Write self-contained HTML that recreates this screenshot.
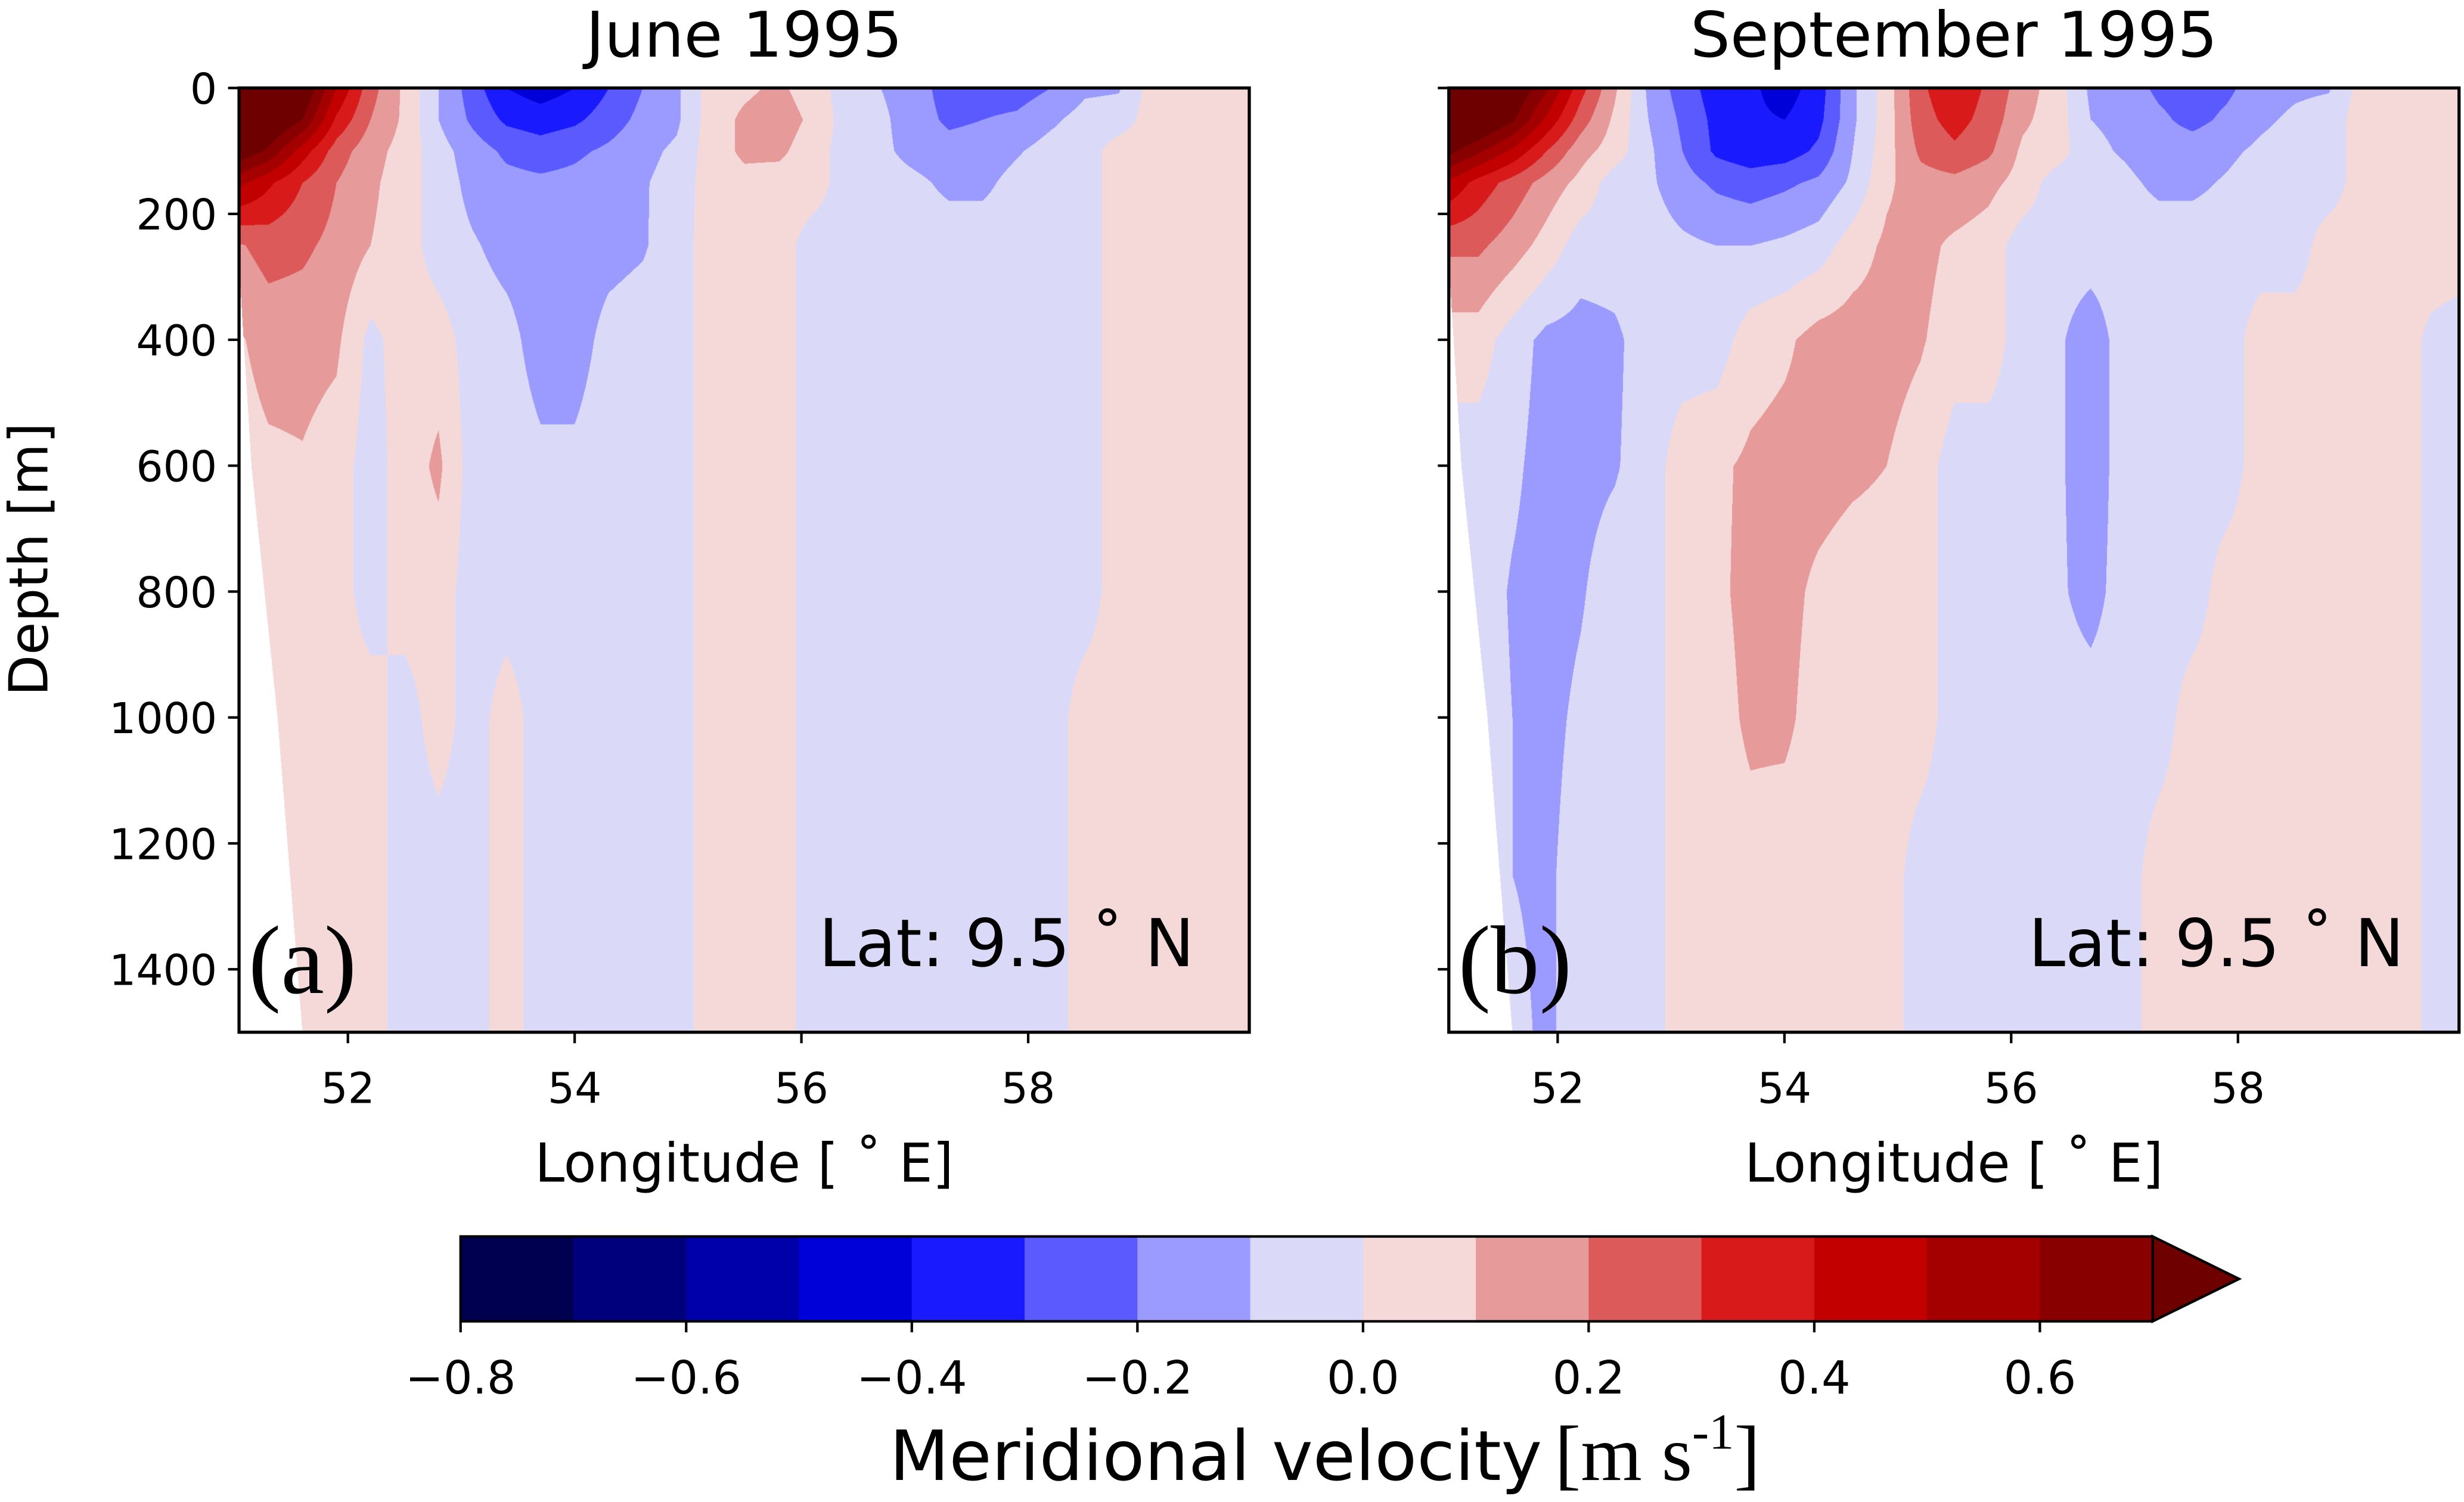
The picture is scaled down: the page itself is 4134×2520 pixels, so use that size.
<!DOCTYPE html>
<html><head><meta charset="utf-8">
<style>
html,body{margin:0;padding:0;background:#fff;}
#wrap{position:relative;width:4134px;height:2520px;overflow:hidden;background:#fff;}
canvas{position:absolute;}
svg{position:absolute;left:0;top:0;}
text{font-family:"DejaVu Sans","Liberation Sans",sans-serif;fill:#000;}
.serif{font-family:"Liberation Serif","DejaVu Serif",serif;}
</style></head>
<body>
<div id="wrap">
<canvas id="cvA"></canvas>
<canvas id="cvB"></canvas>
<svg id="svg" width="4134" height="2520" viewBox="0 0 1568 956"></svg>
</div>
<script>
// ---- data ----
const lons = [51.0,51.3,51.6,51.9,52.2,52.5,52.8,53.1,53.4,53.7,54.0,54.3,54.6,54.9,55.2,55.5,55.8,56.1,56.4,56.7,57.0,57.3,57.6,57.9,58.2,58.5,58.8,59.1,59.4,59.7,60.0];
const depths = [0,50,100,150,250,400,600,800,1000,1250,1500];
// velocities in cm/s (0.01 m/s)
const juneValues = [
[95,92,82,50,24,8,-10,-25,-40,-45,-40,-30,-20,-12,5,8,12,5,-5,-10,-15,-25,-25,-25,-20,-12,-11,5,5,5,5],
[90,85,70,38,20,8,-10,-22,-32,-35,-32,-25,-17,-12,5,12,15,8,-5,-8,-15,-22,-20,-18,-12,-6,-5,5,5,5,5],
[80,68,45,25,14,6,-6,-15,-22,-25,-22,-18,-13,-8,5,12,12,5,-5,-8,-13,-16,-15,-11,-6,-5,5,5,5,5,5],
[55,42,30,20,12,5,-5,-13,-17,-18,-17,-14,-11,-6,5,7,6,5,-5,-6,-8,-12,-12,-7,-5,-5,5,5,5,5,5],
[18,24,22,17,10,5,-5,-9,-13,-15,-15,-13,-11,-5,5,5,5,-5,-5,-5,-5,-5,-5,-5,-5,-5,5,5,5,5,5],
[8,14,14,12,-3,5,5,-5,-7,-14,-14,-7,-5,-5,5,5,5,-5,-5,-5,-5,-5,-5,-5,-5,-5,5,5,5,5,5],
[5,8,9,5,-5,5,12,-5,-5,-8,-8,-5,-5,-5,5,5,5,-5,-5,-5,-5,-5,-5,-5,-5,-5,5,5,5,5,5],
[5,5,5,5,-5,5,5,-5,-5,-5,-5,-5,-5,-5,5,5,5,-5,-5,-5,-5,-5,-5,-5,-5,-5,5,5,5,5,5],
[5,5,5,5,5,-5,5,-5,5,-5,-5,-5,-5,-5,5,5,5,-5,-5,-5,-5,-5,-5,-5,-5,5,5,5,5,5,5],
[5,5,5,5,5,-5,-5,-5,5,-5,-5,-5,-5,-5,5,5,5,-5,-5,-5,-5,-5,-5,-5,-5,5,5,5,5,5,5],
[5,5,5,5,5,-5,-5,-5,5,-5,-5,-5,-5,-5,5,5,5,-5,-5,-5,-5,-5,-5,-5,-5,5,5,5,5,5,5]
];
const septemberValues = [
[95,92,82,62,34,12,-12,-25,-35,-38,-45,-35,-12,5,28,38,28,15,5,-12,-15,-22,-25,-22,-15,-12,-11,5,5,5,5],
[90,85,72,48,25,8,-10,-22,-33,-38,-40,-33,-12,5,26,34,26,12,5,-10,-12,-18,-23,-18,-12,-8,-5,5,5,5,5],
[75,62,48,30,14,5,-8,-20,-32,-36,-35,-28,-10,6,22,28,22,8,5,-8,-11,-15,-15,-12,-8,-5,-5,5,5,5,5],
[50,36,26,16,7,-5,-8,-16,-22,-25,-22,-18,-8,8,16,17,13,6,-5,-6,-8,-12,-12,-9,-5,-5,-5,5,5,5,5],
[22,22,15,6,-5,-5,-5,-8,-10,-10,-8,-5,5,12,13,8,5,-5,-5,-5,-5,-5,-5,-5,-5,-5,5,5,5,5,5],
[5,5,-5,-13,-14,-12,-5,-5,-5,5,8,14,15,14,11,5,5,-5,-8,-16,-5,-5,-5,-5,5,5,5,5,5,-2,-5],
[-5,-5,-8,-14,-13,-11,-5,5,8,12,14,14,12,10,5,-5,-5,-5,-8,-16,-5,-5,-5,-5,5,5,5,5,5,-2,-5],
[-5,-5,-11,-14,-11,-5,-5,5,8,13,13,8,5,5,5,-5,-5,-5,-8,-14,-5,-5,-5,5,5,5,5,5,5,-2,-5],
[-5,-5,-10,-13,-8,-5,-5,5,6,12,12,6,5,5,5,-5,-5,-5,-5,-5,-5,-5,5,5,5,5,5,5,5,-2,-5],
[-5,-5,-10,-12,-5,-5,-5,5,5,6,5,5,5,5,-5,-5,-5,-5,-5,-5,-5,5,5,5,5,5,5,5,5,-2,-5],
[-5,-5,-7,-12,-5,-5,-5,5,5,5,5,5,5,5,-5,-5,-5,-5,-5,-5,-5,5,5,5,5,5,5,5,5,-2,-5]
];
const landDepths = [0,280,600,1000,1500];
const landLons = [51.0,51.04,51.15,51.38,51.6];
const levels = [-0.8,-0.7,-0.6,-0.5,-0.4,-0.3,-0.2,-0.1,0.0,0.1,0.2,0.3,0.4,0.5,0.6,0.7];
const levelColors = ['#000050','#00007c','#0000aa','#0000d8','#1a1aff','#5a5aff','#9a9aff','#dadaf8','#f5d9d9','#e69a9a','#dc5a5a','#d81a1a','#c20000','#a40000','#880000'];
const extendColor = '#6e0000';
const cbTicks = [-0.8,-0.6,-0.4,-0.2,0.0,0.2,0.4,0.6];
const cbTickLabels = ['\u22120.8','\u22120.6','\u22120.4','\u22120.2','0.0','0.2','0.4','0.6'];
const lonTicks = [52,54,56,58];
const depthTicks = [0,200,400,600,800,1000,1200,1400];

// ---- layout ----
const S = 4134/1568;
const LON0 = 51.04, LON1 = 59.95, DMAX = 1500;
const panels = [
  {x0:152, y0:56, w:643, h:601, vals:juneValues, cv:'cvA', title:'June 1995', tag:'(a)', key:'june'},
  {x0:922, y0:56, w:643, h:601, vals:septemberValues, cv:'cvB', title:'September 1995', tag:'(b)', key:'september'}
];
function xScale(p, lon){ return p.x0 + (lon-LON0)/(LON1-LON0)*p.w; }
function yScale(p, d){ return p.y0 + d/DMAX*p.h; }
function cbX(v){ return 293 + (v-levels[0])/(levels[levels.length-1]-levels[0])*(1370-293); }

function seg(arr, v){
  let i=0; while(i<arr.length-2 && v>arr[i+1]) i++;
  return i;
}
function interp1(xs, ys, x){
  const i = seg(xs,x); const t=(x-xs[i])/(xs[i+1]-xs[i]);
  return ys[i]+(ys[i+1]-ys[i])*Math.max(0,Math.min(1,t));
}
function hexRgb(h){ return [parseInt(h.substr(1,2),16),parseInt(h.substr(3,2),16),parseInt(h.substr(5,2),16)]; }
const rgbLevels = levelColors.map(hexRgb), rgbExt = hexRgb(extendColor);

function drawField(p){
  const c = document.getElementById(p.cv);
  const W = Math.round(p.w*S), H = Math.round(p.h*S);
  c.width=W; c.height=H;
  c.style.left=(p.x0*S)+'px'; c.style.top=(p.y0*S)+'px';
  c.style.width=W+'px'; c.style.height=H+'px';
  const ctx=c.getContext('2d'); const img=ctx.createImageData(W,H); const d=img.data;
  const colIdx=[], colT=[];
  for(let px=0;px<W;px++){ const lon=LON0+(px+0.5)/W*(LON1-LON0); const i=seg(lons,lon); colIdx.push(i); colT.push((lon-lons[i])/(lons[i+1]-lons[i])); }
  for(let py=0;py<H;py++){
    const dep=(py+0.5)/H*DMAX; const j=seg(depths,dep); const u=(dep-depths[j])/(depths[j+1]-depths[j]);
    const edge=interp1(landDepths,landLons,dep);
    const r0=p.vals[j], r1=p.vals[j+1];
    for(let px=0;px<W;px++){
      const lon=LON0+(px+0.5)/W*(LON1-LON0);
      const k=(py*W+px)*4; let col;
      if(lon<edge){ col=[255,255,255]; }
      else{
        const i=colIdx[px], t=colT[px];
        const v=(r0[i]*(1-t)+r0[i+1]*t)*(1-u)+(r1[i]*(1-t)+r1[i+1]*t)*u;
        if(v>=70) col=rgbExt;
        else { let li=Math.floor((v+80)/10); li=Math.max(0,Math.min(14,li)); col=rgbLevels[li]; }
      }
      d[k]=col[0];d[k+1]=col[1];d[k+2]=col[2];d[k+3]=255;
    }
  }
  ctx.putImageData(img,0,0);
}
panels.forEach(drawField);

// ---- SVG overlay ----
const NS='http://www.w3.org/2000/svg';
const svg=document.getElementById('svg');
function el(tag, attrs, parent){ const e=document.createElementNS(NS,tag); for(const k in attrs) e.setAttribute(k,attrs[k]); (parent||svg).appendChild(e); return e; }

panels.forEach((p,pi)=>{
  const g=el('g',{});
  
  
  const frame=el('rect',{x:p.x0,y:p.y0,width:p.w,height:p.h,fill:'none',stroke:'#000','stroke-width':2},g);
  
  
  const title=el('text',{x:p.x0+p.w/2,y:36,'font-size':40,'text-anchor':'middle'},g);
  title.textContent=p.title;
  
  
  lonTicks.forEach(v=>{
    const x=xScale(p,v);
    const t=el('line',{x1:x,y1:p.y0+p.h,x2:x,y2:p.y0+p.h+7,stroke:'#000','stroke-width':1.6},g);
    
    
    const l=el('text',{x:x,y:p.y0+p.h+45,'font-size':27,'text-anchor':'middle'},g);
    l.textContent=String(v);
    
    
  });
  depthTicks.forEach(v=>{
    const y=yScale(p,v);
    const t=el('line',{x1:p.x0-7,y1:y,x2:p.x0,y2:y,stroke:'#000','stroke-width':1.6},g);
    
    
    if(pi===0){
      const l=el('text',{x:p.x0-14,y:y+10,'font-size':27,'text-anchor':'end'},g);
      l.textContent=String(v);
      
      
    }
  });
  const xl=el('text',{x:p.x0+p.w/2,y:752,'font-size':34,'text-anchor':'middle'},g);
  xl.textContent='Longitude [ \u02da E]';
  
  
  const lat=el('text',{x:p.x0+p.w-35,y:615,'font-size':42,'text-anchor':'end'},g);
  lat.textContent='Lat: 9.5 \u02da N';
  
  
  const tag=el('text',{x:p.x0+6,y:632,'font-size':62,'class':'serif'},g);
  tag.textContent=p.tag;
  
  
});
const yt=el('text',{x:0,y:0,'font-size':34,'text-anchor':'middle',transform:'translate(30,356) rotate(-90)'});
yt.textContent='Depth [m]';



// colorbar
const cb=el('g',{});


for(let i=0;i<levelColors.length;i++){
  const x1=cbX(levels[i]), x2=cbX(levels[i+1]);
  const r=el('rect',{x:x1,y:787,width:x2-x1+0.5,height:54,fill:levelColors[i]},cb);
  
  
}
const tri=el('polygon',{points:'1370,787 1425,814 1370,841',fill:extendColor,stroke:'#000','stroke-width':1.6},cb);


el('polyline',{points:'1370,787 293,787 293,841 1370,841',fill:'none',stroke:'#000','stroke-width':1.6},cb);
cbTicks.forEach((v,i)=>{
  const x=cbX(v);
  const t=el('line',{x1:x,y1:841,x2:x,y2:848,stroke:'#000','stroke-width':1.6},cb);
  
  
  const l=el('text',{x:x,y:887,'font-size':29,'text-anchor':'middle'},cb);
  l.textContent=cbTickLabels[i];
  
  
});
const cbl=el('text',{x:566,y:942,'font-size':44},cb);


cbl.innerHTML='Meridional velocity<tspan class="serif" font-size="50" dx="8">[m s</tspan><tspan class="serif" font-size="32" dy="-20">-1</tspan><tspan class="serif" font-size="50" dy="20">]</tspan>';
</script>
</body></html>
